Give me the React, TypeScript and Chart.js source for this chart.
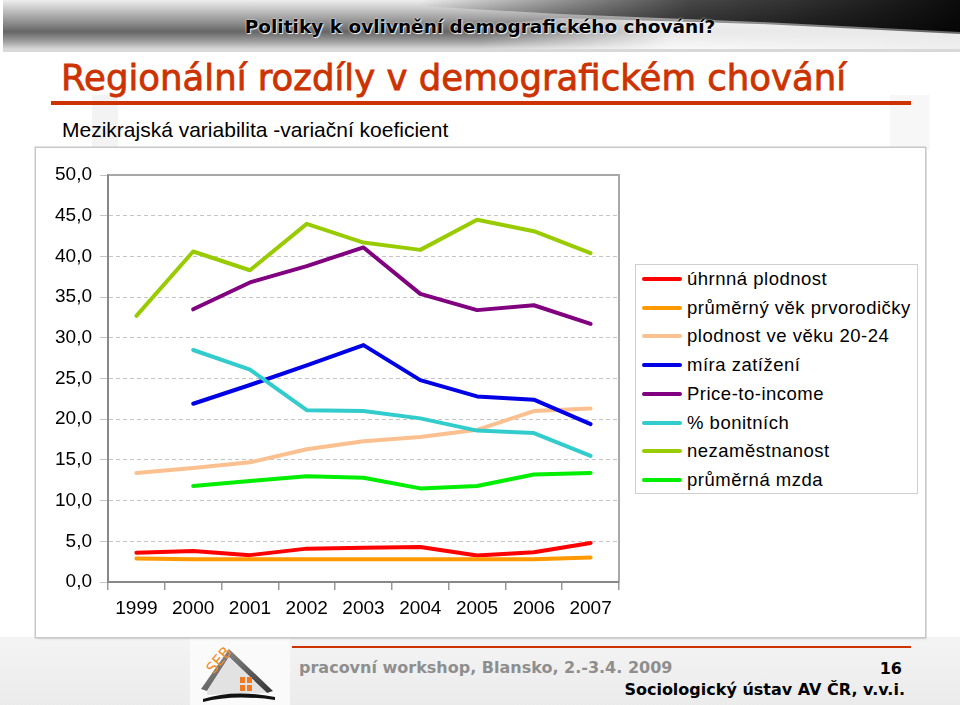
import React, { useEffect, useRef } from 'react';
import { Chart, registerables } from 'chart.js';
Chart.register(...registerables);

const categories = ['1999', '2000', '2001', '2002', '2003', '2004', '2005', '2006', '2007'];
const uhrnnaPlodnost = [3.6, 3.8, 3.3, 4.1, 4.2, 4.3, 3.25, 3.65, 4.8];
const prumernyVekPrvorodicky = [2.9, 2.8, 2.8, 2.8, 2.8, 2.8, 2.8, 2.8, 3.0];
const plodnostVeVeku2024 = [13.4, 14.0, 14.7, 16.3, 17.3, 17.8, 18.7, 21.0, 21.3];
const miraZatizeni = [null, 21.9, 24.2, 26.6, 29.1, 24.8, 22.8, 22.4, 19.4];
const priceToIncome = [null, 33.5, 36.8, 38.8, 41.1, 35.4, 33.4, 34.0, 31.7];
const bonitnich = [null, 28.5, 26.1, 21.1, 21.0, 20.1, 18.6, 18.3, 15.5];
const nezamestnanost = [32.7, 40.6, 38.3, 44.0, 41.7, 40.8, 44.5, 43.1, 40.4];
const prumernaMzda = [null, 11.8, 12.4, 13.0, 12.8, 11.5, 11.8, 13.2, 13.4];
const yTickValues = [0, 5, 10, 15, 20, 25, 30, 35, 40, 45, 50];

const seriesNames = [
  'úhrnná plodnost',
  'průměrný věk prvorodičky',
  'plodnost ve věku 20-24',
  'míra zatížení',
  'Price-to-income',
  '% bonitních',
  'nezaměstnanost',
  'průměrná mzda',
];
const seriesData = [
  uhrnnaPlodnost,
  prumernyVekPrvorodicky,
  plodnostVeVeku2024,
  miraZatizeni,
  priceToIncome,
  bonitnich,
  nezamestnanost,
  prumernaMzda,
];
const seriesColors = ['#ff0000', '#ff9900', '#fac090', '#0000e6', '#800080', '#33cccc', '#99cc00', '#00ee00'];

const plotBorder = {
  id: 'plotBorder',
  beforeDatasetsDraw(chart: any) {
    const { ctx, chartArea: a } = chart;
    ctx.save();
    ctx.lineWidth = 2;
    ctx.strokeStyle = '#a8a8a8';
    ctx.beginPath();
    ctx.moveTo(a.left, a.top);
    ctx.lineTo(a.right, a.top);
    ctx.lineTo(a.right, a.bottom);
    ctx.stroke();
    ctx.strokeStyle = '#888888';
    ctx.beginPath();
    ctx.moveTo(a.left, a.top);
    ctx.lineTo(a.left, a.bottom);
    ctx.lineTo(a.right, a.bottom);
    ctx.stroke();
    ctx.restore();
  },
};

const FONT = "'Liberation Sans', Arial, sans-serif";
const DV = "'DejaVu Sans', Verdana, sans-serif";

function ChartBox() {
  const ref = useRef<HTMLCanvasElement | null>(null);
  useEffect(() => {
    if (!ref.current) return;
    const chart = new Chart(ref.current, {
      type: 'line',
      data: {
        labels: categories,
        datasets: seriesNames.map((name, i) => ({
          label: name,
          data: seriesData[i],
          borderColor: seriesColors[i],
          backgroundColor: seriesColors[i],
          borderWidth: 4,
          pointRadius: 0,
          tension: 0,
          fill: false,
          spanGaps: false,
          order: -i,
          borderJoinStyle: 'round' as const,
          borderCapStyle: 'round' as const,
        })),
      },
      options: {
        responsive: false,
        animation: false,
        layout: { padding: { left: 0, top: 27, right: 306, bottom: 0 } },
        plugins: { legend: { display: false }, tooltip: { enabled: false } },
        scales: {
          x: {
            type: 'category',
            offset: true,
            grid: { offset: true, drawOnChartArea: false, drawTicks: true, tickLength: 8, color: '#999', lineWidth: 1.5 },
            border: { display: true, color: '#888', width: 2 },
            ticks: { color: '#000', font: { size: 19, family: FONT }, padding: 7, maxRotation: 0, autoSkip: false },
            afterFit: (s: any) => { s.height = 55; },
          },
          y: {
            min: 0,
            max: 50,
            afterBuildTicks: (s: any) => { s.ticks = yTickValues.map((v) => ({ value: v })); },
            grid: { color: '#c4c4c4', lineWidth: 1, tickLength: 8, drawTicks: true },
            border: { display: true, color: '#888', width: 2, dash: [4, 3] },
            ticks: {
              color: '#000',
              font: { size: 19, family: FONT },
              padding: 8,
              callback: (v: any) => Number(v).toFixed(1).replace('.', ','),
            },
            afterFit: (s: any) => { s.width = 72; },
          },
        },
      },
      plugins: [plotBorder],
    } as any);
    return () => chart.destroy();
  }, []);
  return <canvas ref={ref} width={889} height={489} style={{ position: 'absolute', left: 0, top: 0, width: 889, height: 489 }} />;
}

export default function App() {
  return (
    <div style={{ position: 'absolute', left: 0, top: 0, width: 960, height: 705, overflow: 'hidden', background: '#ffffff', fontFamily: FONT }}>
      {/* faint background watermark */}
      <div style={{ position: 'absolute', left: 0, top: 637, width: 960, height: 68, background: 'linear-gradient(to bottom, #f4f4f4, #ebebeb)' }} />
      <div style={{ position: 'absolute', left: 92, top: 95, width: 26, height: 55, background: '#f3f3f3' }} />
      <div style={{ position: 'absolute', left: 890, top: 95, width: 40, height: 55, background: '#f7f7f7' }} />
      <div style={{ position: 'absolute', left: 190, top: 638, width: 100, height: 67, background: '#fafafa' }} />

      {/* header band */}
      <svg width={960} height={52} style={{ position: 'absolute', left: 0, top: 0 }}>
        <defs>
          <linearGradient id="hb" x1="0" y1="0" x2="0" y2="1">
            <stop offset="0" stopColor="#eeeeee" />
            <stop offset="0.3" stopColor="#b0b0b0" />
            <stop offset="0.65" stopColor="#666666" />
            <stop offset="0.85" stopColor="#a0a0a0" />
            <stop offset="1" stopColor="#d8d8d8" />
          </linearGradient>
          <linearGradient id="hd" x1="0" y1="0" x2="1" y2="0">
            <stop offset="0" stopColor="#000" stopOpacity="0" />
            <stop offset="0.5" stopColor="#111" stopOpacity="0.75" />
            <stop offset="1" stopColor="#000" stopOpacity="0.95" />
          </linearGradient>
          <linearGradient id="hw" x1="0" y1="0" x2="1" y2="0">
            <stop offset="0" stopColor="#fff" stopOpacity="0" />
            <stop offset="0.4" stopColor="#fff" stopOpacity="0.85" />
            <stop offset="1" stopColor="#f0f0f0" stopOpacity="0.95" />
          </linearGradient>
        </defs>
        <rect x={3} y={0} width={957} height={49} fill="url(#hb)" />
        <polygon points="420,0 960,0 960,32 760,22 560,14 420,6" fill="url(#hd)" />
        <polygon points="480,49 960,49 960,34 760,24 560,18 480,26" fill="url(#hw)" />
        <rect x={3} y={49} width={957} height={3} fill="#d8d8d8" />
      </svg>
      <div style={{ position: 'absolute', left: 0, top: 14, width: 960, textAlign: 'center', fontFamily: DV, fontWeight: 'bold', fontSize: 18.5, lineHeight: '26px', color: '#000', textShadow: '0 0 2px #fff, 1px 1px 1px #eee' }}>
        Politiky k ovlivnění demografického chování?
      </div>

      {/* title */}
      <div style={{ position: 'absolute', left: 61, top: 56, fontFamily: DV, fontSize: 35.5, lineHeight: '44px', color: '#cc3300', whiteSpace: 'nowrap', WebkitTextStroke: '0.8px #cc3300' }}>
        Regionální rozdíly v demografickém chování
      </div>
      <div style={{ position: 'absolute', left: 51, top: 101, width: 860, height: 4, background: '#cc3300' }} />

      {/* subtitle */}
      <div style={{ position: 'absolute', left: 62, top: 117, fontFamily: FONT, fontSize: 21, lineHeight: '26px', color: '#000', whiteSpace: 'nowrap' }}>
        Mezikrajská variabilita -variační koeficient
      </div>

      {/* chart frame */}
      <div style={{ position: 'absolute', left: 36, top: 148, width: 889, height: 489, background: '#fff', boxShadow: '0 0 0 1.5px #c8c8c8, 1px 2px 2px rgba(0,0,0,0.12)' }}>
        <ChartBox />
        {/* legend */}
        <div style={{ position: 'absolute', left: 635 - 36, top: 264 - 148, width: 283, height: 230, border: '1px solid #cfcfcf', boxSizing: 'border-box', background: '#fff' }}>
          {seriesNames.map((name, i) => (
            <div key={name} style={{ position: 'absolute', left: 0, top: 278 - 264 - 13 + i * 28.7, height: 26, display: 'flex', alignItems: 'center', whiteSpace: 'nowrap' }}>
              <div style={{ width: 40, height: 4, marginLeft: 6, background: seriesColors[i], borderRadius: 2 }} />
              <span style={{ marginLeft: 5, fontFamily: FONT, fontSize: 18.5, letterSpacing: 0.5, color: '#000' }}>{name}</span>
            </div>
          ))}
        </div>
      </div>

      {/* footer */}
      <div style={{ position: 'absolute', left: 292, top: 646, width: 619, height: 2, background: '#cc3300' }} />
      <svg width={90} height={66} style={{ position: 'absolute', left: 193, top: 639 }}>
        <defs>
          <linearGradient id="roof" x1="0" y1="0" x2="1" y2="1">
            <stop offset="0" stopColor="#999" />
            <stop offset="1" stopColor="#333" />
          </linearGradient>
        </defs>
        <polygon points="8,50 36,10 80,52 74,54 36,18 14,52" fill="url(#roof)" />
        <polygon points="14,52 36,18 74,54 14,56" fill="#e2e2e2" />
        <text x={12} y={30} fontSize={15} fontFamily="DejaVu Sans, sans-serif" fill="#f08a24" transform="rotate(-50 22 24)">SEB</text>
        <rect x={47} y={38} width={5} height={6} fill="#f07a20" />
        <rect x={54} y={38} width={5} height={6} fill="#f07a20" />
        <rect x={47} y={46} width={5} height={6} fill="#f07a20" />
        <rect x={54} y={46} width={5} height={6} fill="#f07a20" />
        <path d="M10,60 Q40,50 82,58 L82,61 Q40,55 10,63 Z" fill="#111" />
      </svg>
      <div style={{ position: 'absolute', left: 299, top: 657, fontFamily: DV, fontWeight: 'bold', fontSize: 16, lineHeight: '22px', color: '#8e8e8e', whiteSpace: 'nowrap' }}>
        pracovní workshop, Blansko, 2.-3.4. 2009
      </div>
      <div style={{ position: 'absolute', right: 58, top: 658, fontFamily: DV, fontWeight: 'bold', fontSize: 16, lineHeight: '22px', color: '#000', whiteSpace: 'nowrap' }}>
        16
      </div>
      <div style={{ position: 'absolute', right: 55, top: 679, fontFamily: DV, fontWeight: 'bold', fontSize: 16, lineHeight: '22px', color: '#000', whiteSpace: 'nowrap' }}>
        Sociologický ústav AV ČR, v.v.i.
      </div>
    </div>
  );
}
